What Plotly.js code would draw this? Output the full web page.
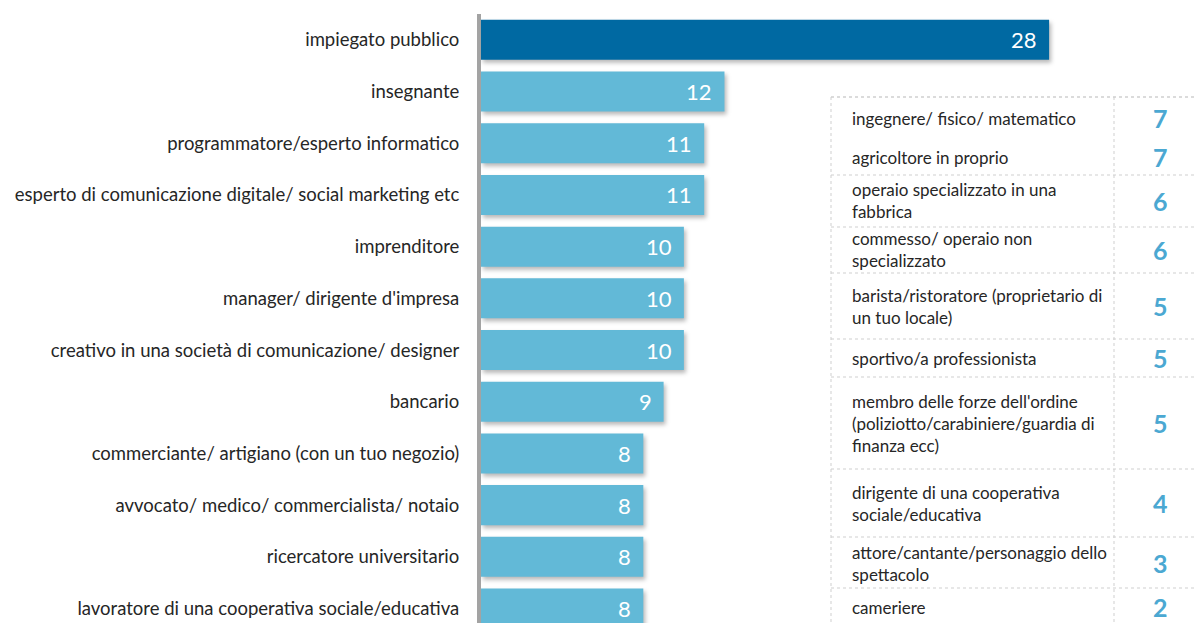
<!DOCTYPE html>
<html>
<head>
<meta charset="utf-8">
<script src="https://cdn.plot.ly/plotly-3.0.1.min.js"></script>
<style>
  html, body { margin: 0; padding: 0; background: #fff; }
  #chart { width: 1195px; height: 623px; }
  .bars .point path { filter: drop-shadow(2px 3px 2px rgba(0,0,0,0.28)); }
</style>
</head>
<body>
<div id="chart"></div>
<script>
// ---- data ----
const categories = [
  'impiegato pubblico',
  'insegnante',
  'programmatore/esperto informatico',
  'esperto di comunicazione digitale/ social marketing etc',
  'imprenditore',
  "manager/ dirigente d'impresa",
  'creativo in una società di comunicazione/ designer',
  'bancario',
  'commerciante/ artigiano (con un tuo negozio)',
  'avvocato/ medico/ commercialista/ notaio',
  'ricercatore universitario',
  'lavoratore di una cooperativa sociale/educativa'
];
const values = [28, 12, 11, 11, 10, 10, 10, 9, 8, 8, 8, 8];

const tableLabels = [
  'ingegnere/ fisico/ matematico',
  'agricoltore in proprio',
  'operaio specializzato in una<br>fabbrica',
  'commesso/ operaio non<br>specializzato',
  'barista/ristoratore (proprietario di<br>un tuo locale)',
  'sportivo/a professionista',
  "membro delle forze dell'ordine<br>(poliziotto/carabiniere/guardia di<br>finanza ecc)",
  'dirigente di una cooperativa<br>sociale/educativa',
  'attore/cantante/personaggio dello<br>spettacolo',
  'cameriere'
];
const tableValues = [7, 7, 6, 6, 5, 5, 5, 4, 3, 2];

// ---- layout helpers (pixel geometry of the side table) ----
const W = 1195, H = 623;
const M = { l: 481, r: 0, t: 14, b: 0 };
const PW = W - M.l - M.r, PH = H - M.t - M.b;
const px = x => (x - M.l) / PW;
const py = y => 1 - (y - M.t) / PH;
const rowCenters = [118, 157, 201, 250, 306, 358, 423, 503, 563, 607];
const rowLines = [97, 175, 227, 273, 339, 377, 469, 537, 588];
const tblLeft = 831, tblDiv = 1114, tblRight = 1195, tblTop = 97, tblBottom = 640;

const DARK = '#0069A2', LIGHT = '#62B9D7', NUM = '#4BA8D2', TXT = '#262626', GRID = '#cfcfcf';
const FONT = 'Lato, "Open Sans", sans-serif';

const trace = {
  type: 'bar',
  orientation: 'h',
  y: categories,
  x: values,
  marker: { color: values.map((v, i) => i === 0 ? DARK : LIGHT) },
  hoverinfo: 'none',
  textposition: 'none'
};

const annotations = [];
values.forEach((v, i) => {
  annotations.push({
    x: v, y: categories[i], xref: 'x', yref: 'y',
    text: String(v), showarrow: false, xanchor: 'right', yanchor: 'middle',
    xshift: -10, font: { family: FONT, size: 22, color: '#ffffff' }
  });
});
tableLabels.forEach((t, i) => {
  annotations.push({
    x: px(850), y: py(rowCenters[i]), xref: 'paper', yref: 'paper',
    text: t, showarrow: false, xanchor: 'left', yanchor: 'middle', align: 'left',
    font: { family: FONT, size: 17, color: TXT }
  });
  annotations.push({
    x: px(1160), y: py(rowCenters[i]), xref: 'paper', yref: 'paper',
    text: '<b>' + tableValues[i] + '</b>', showarrow: false, xanchor: 'center', yanchor: 'middle',
    font: { family: FONT, size: 25, color: NUM }
  });
});

const shapes = [];
const dot = { color: GRID, width: 1, dash: 'dot' };
[tblTop].concat(rowLines).forEach(y => {
  shapes.push({ type: 'line', xref: 'paper', yref: 'paper', x0: px(tblLeft), x1: px(tblRight), y0: py(y), y1: py(y), line: dot, layer: 'above' });
});
[tblLeft, tblDiv].forEach(x => {
  shapes.push({ type: 'line', xref: 'paper', yref: 'paper', x0: px(x), x1: px(x), y0: py(tblTop), y1: py(tblBottom), line: dot, layer: 'above' });
});

const layout = {
  width: W, height: H,
  margin: M,
  paper_bgcolor: '#ffffff', plot_bgcolor: '#ffffff',
  showlegend: false,
  bargap: 0.226,
  font: { family: FONT, color: TXT },
  xaxis: { range: [0, PW / 20.29], visible: false, fixedrange: true },
  yaxis: {
    type: 'category',
    range: [11.28, -0.5],
    showline: true, linecolor: '#a3a3a3', linewidth: 4,
    showgrid: false, zeroline: false,
    ticks: '', ticklabelstandoff: 14,
    tickfont: { family: FONT, size: 18.5, color: TXT },
    fixedrange: true
  },
  annotations: annotations,
  shapes: shapes
};

Plotly.newPlot('chart', [trace], layout, { displayModeBar: false, staticPlot: true });
</script>
</body>
</html>
